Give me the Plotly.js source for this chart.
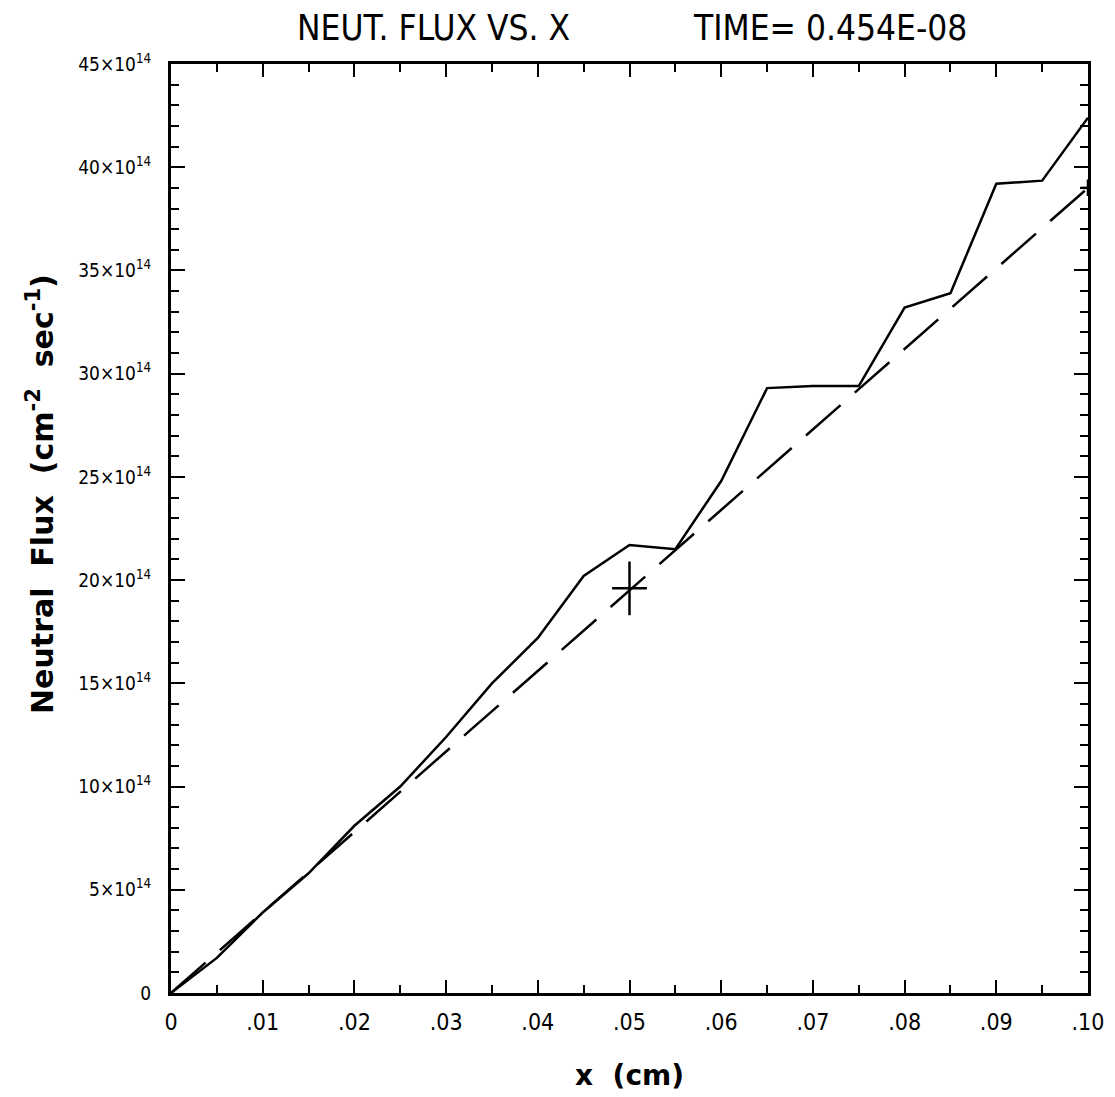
<!DOCTYPE html>
<html>
<head>
<meta charset="utf-8">
<script src="https://cdn.plot.ly/plotly-3.0.1.min.js"></script>
<style>html,body{margin:0;padding:0;background:#fff;}#chart{width:1115px;height:1097px;}</style>
</head>
<body>
<div id="chart"></div>
<script>
// x positions (cm)
const xs = [0, 0.005, 0.01, 0.015, 0.02, 0.025, 0.03, 0.035, 0.04, 0.045, 0.05,
            0.055, 0.06, 0.065, 0.07, 0.075, 0.08, 0.085, 0.09, 0.095, 0.10];
// computed neutral flux (units of 1e14 cm^-2 s^-1)
const fluxSolid = [0, 1.7, 3.9, 5.8, 8.1, 10.0, 12.4, 15.0, 17.2, 20.2, 21.7,
                   21.5, 24.8, 29.3, 29.4, 29.4, 33.2, 33.9, 39.2, 39.35, 42.4];
// analytic (dashed) line endpoints
const xDashed = [0, 0.10];
const fluxDashed = [0, 39.0];
// marked points with cross symbols
const xCross = [0.05, 0.10];
const yCross = [19.6, 39.0];
const crossErrY = [1.3, 0.4];
const crossErrX = [0.0019, 0.0008];
// tick labels
const yTickVals = [0, 5, 10, 15, 20, 25, 30, 35, 40, 45];
const yTickText = ["0", "5×10<sup>14</sup>", "10×10<sup>14</sup>", "15×10<sup>14</sup>", "20×10<sup>14</sup>",
                   "25×10<sup>14</sup>", "30×10<sup>14</sup>", "35×10<sup>14</sup>", "40×10<sup>14</sup>", "45×10<sup>14</sup>"];
const xTickVals = [0, 0.01, 0.02, 0.03, 0.04, 0.05, 0.06, 0.07, 0.08, 0.09, 0.10];
const xTickText = ["0", ".01", ".02", ".03", ".04", ".05", ".06", ".07", ".08", ".09", ".10"];
const titleLeft = "NEUT. FLUX VS. X";
const titleRight = "TIME= 0.454E-08";
const yTitle = "Neutral  Flux  (cm<sup>-2</sup>  sec<sup>-1</sup>)";
const xTitle = "x  (cm)";

const narrow = "Liberation Sans Narrow, DejaVu Sans Condensed, Arial Narrow, sans-serif";
const bold = {family: "DejaVu Sans, sans-serif", size: 30, color: "#000", weight: "bold"};

const traces = [
  {x: xs, y: fluxSolid, mode: "lines", line: {color: "#000", width: 2.5}, hoverinfo: "skip"},
  {x: xDashed, y: fluxDashed, mode: "lines", line: {color: "#000", width: 2.5, dash: "46px,19px"}, hoverinfo: "skip"},
  {x: xCross, y: yCross, mode: "markers", marker: {size: 1, color: "#000"},
   error_y: {type: "data", array: crossErrY, color: "#000", thickness: 2.5, width: 0},
   error_x: {type: "data", array: crossErrX, color: "#000", thickness: 2.5, width: 0},
   hoverinfo: "skip", cliponaxis: false}
];

const layout = {
  width: 1115, height: 1097,
  margin: {l: 171, r: 27, t: 64, b: 104},
  paper_bgcolor: "#fff", plot_bgcolor: "#fff",
  showlegend: false,
  title: {text: titleLeft,
          font: {family: narrow, size: 35, color: "#000"},
          x: 297 / 1115, xanchor: "left", xref: "container", y: 1 - 28 / 1097, yanchor: "middle"},
  annotations: [
    {text: titleRight, xref: "paper", yref: "paper", x: (691 - 171) / 917, y: (993 - 28) / 929,
     xanchor: "left", yanchor: "middle", showarrow: false,
     font: {family: narrow, size: 35, color: "#000"}},
    {text: yTitle, xref: "paper", yref: "paper", x: (40 - 171) / 917, y: (993 - 494) / 929,
     xanchor: "center", yanchor: "middle", textangle: -90, showarrow: false, font: bold}
  ],
  xaxis: {
    range: [0, 0.10], showgrid: false, zeroline: false,
    showline: true, linecolor: "#000", linewidth: 3, mirror: "ticks",
    ticks: "inside", ticklen: 13, tickwidth: 2, tickcolor: "#000",
    tickmode: "array", tickvals: xTickVals, ticktext: xTickText,
    tickfont: {family: narrow, size: 23, color: "#000"},
    ticklabelstandoff: 6,
    minor: {ticks: "inside", dtick: 0.005, ticklen: 8, tickwidth: 2, tickcolor: "#000", showgrid: false},
    title: {text: xTitle, font: {family: "DejaVu Sans, sans-serif", size: 28, color: "#000", weight: "bold"}, standoff: 32}
  },
  yaxis: {
    range: [0, 45], showgrid: false, zeroline: false,
    showline: true, linecolor: "#000", linewidth: 3, mirror: "ticks",
    ticks: "inside", ticklen: 14, tickwidth: 2, tickcolor: "#000",
    tickmode: "array", tickvals: yTickVals, ticktext: yTickText,
    tickfont: {family: narrow, size: 19, color: "#000"},
    ticklabelstandoff: 13,
    minor: {ticks: "inside", dtick: 1, ticklen: 8, tickwidth: 2, tickcolor: "#000", showgrid: false}
  }
};

Plotly.newPlot("chart", traces, layout, {displayModeBar: false, staticPlot: true});
</script>
</body>
</html>
